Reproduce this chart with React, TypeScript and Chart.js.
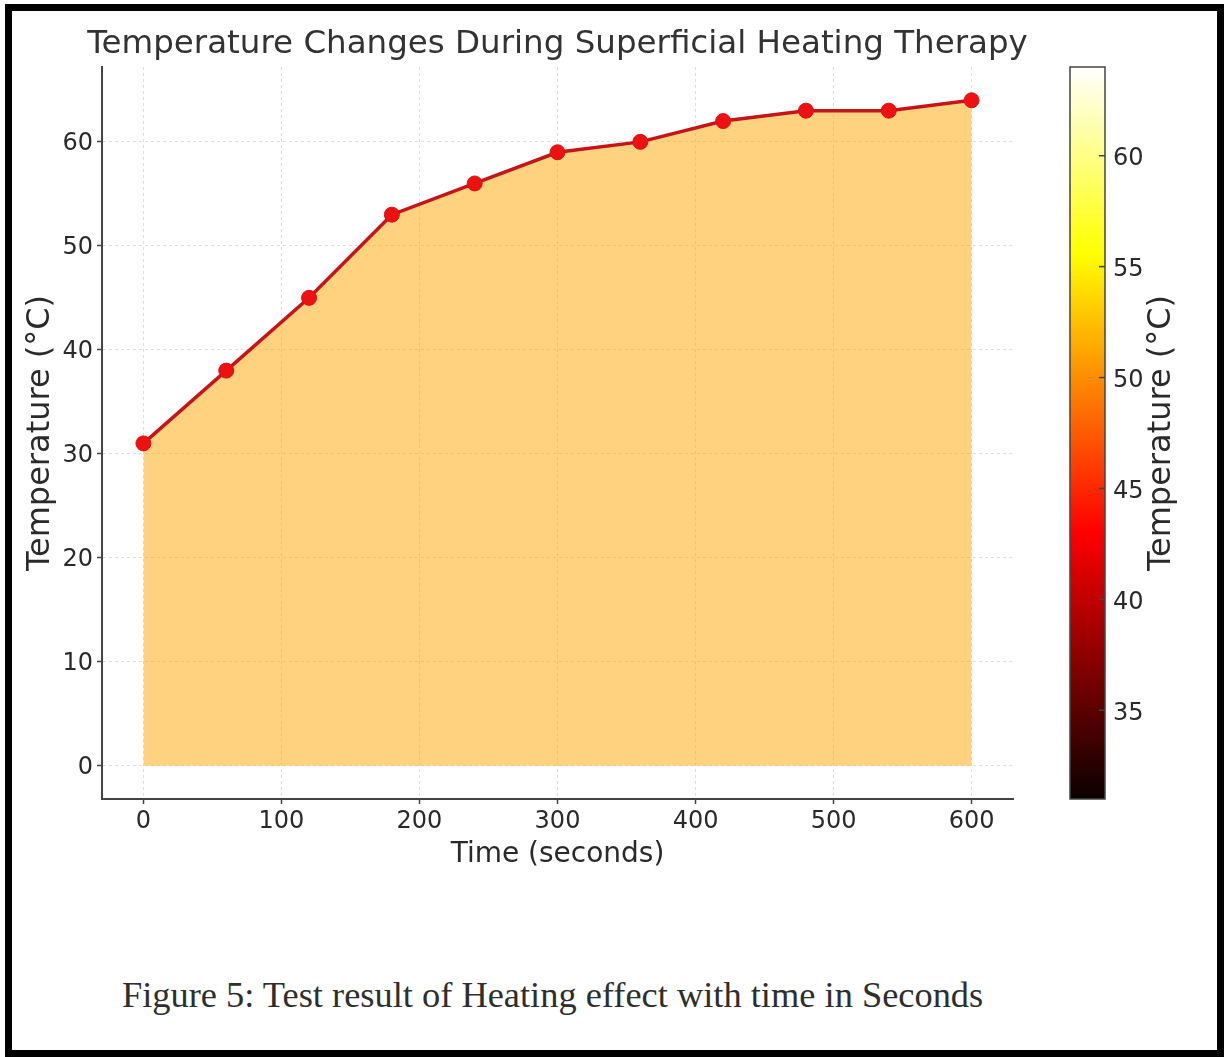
import React, { useEffect, useRef } from "react";
import { Chart, registerables } from "chart.js";

Chart.register(...registerables);

const chartTitle = "Temperature Changes During Superficial Heating Therapy";
const xAxisLabel = "Time (seconds)";
const yAxisLabel = "Temperature (°C)";
const colorbarLabel = "Temperature (°C)";
const caption = "Figure 5: Test result of Heating effect with time in Seconds";

const timeSeconds = [0, 60, 120, 180, 240, 300, 360, 420, 480, 540, 600];
const temperatures = [31, 38, 45, 53, 56, 59, 60, 62, 63, 63, 64];
const xTicks = [0, 100, 200, 300, 400, 500, 600];
const yTicks = [0, 10, 20, 30, 40, 50, 60];
const colorbarTicks = [35, 40, 45, 50, 55, 60];

// matplotlib "hot" colormap stops
const hotStops: [number, string][] = [
  [0, "rgb(11,0,0)"],
  [0.365, "rgb(255,0,0)"],
  [0.746, "rgb(255,255,0)"],
  [1, "rgb(255,255,255)"],
];

const FONT = "'DejaVu Sans', 'Liberation Sans', sans-serif";
const TEXT = "#2a2a2a";

export default function App() {
  const mainRef = useRef<HTMLCanvasElement>(null);
  const cbRef = useRef<HTMLCanvasElement>(null);

  useEffect(() => {
    const xMin = Math.min(...timeSeconds);
    const xMax = Math.max(...timeSeconds);
    const xPad = (xMax - xMin) * 0.05;
    const yLo = Math.min(0, ...temperatures);
    const yHi = Math.max(...temperatures);
    const yPad = (yHi - yLo) * 0.05;

    const gridCommon = {
      color: "rgba(0,0,0,0.13)",
      lineWidth: 1,
      drawTicks: true,
      tickLength: 5,
      tickColor: "#444",
      tickWidth: 1.5,
      tickBorderDash: [],
    };

    const titlePlugin = {
      id: "centeredTitle",
      afterDraw(chart: any) {
        const { ctx, chartArea } = chart;
        ctx.save();
        ctx.fillStyle = "#333";
        ctx.font = `32.5px ${FONT}`;
        ctx.textAlign = "center";
        ctx.textBaseline = "middle";
        ctx.fillText(chartTitle, (chartArea.left + chartArea.right) / 2, 45);
        ctx.restore();
      },
    };

    const main = new Chart(mainRef.current!, {
      type: "line",
      data: {
        datasets: [
          {
            data: timeSeconds.map((t, i) => ({ x: t, y: temperatures[i] })),
            fill: "origin",
            backgroundColor: "rgba(255,165,0,0.5)",
            borderColor: "#c4161a",
            borderWidth: 3.5,
            pointRadius: 7.5,
            pointBackgroundColor: "#ee1111",
            pointBorderColor: "#d41414",
            pointBorderWidth: 1,
            tension: 0,
          },
        ],
      },
      options: {
        responsive: false,
        animation: false,
        layout: { padding: { left: 0, right: 27, top: 67, bottom: 0 } },
        plugins: {
          legend: { display: false },
          tooltip: { enabled: false },
          title: { display: false },
        },
        scales: {
          x: {
            type: "linear",
            min: xMin - xPad,
            max: xMax + xPad,
            afterBuildTicks: (axis: any) => {
              axis.ticks = xTicks.map((v) => ({ value: v }));
            },
            afterFit: (scale: any) => {
              scale.height = 101;
            },
            grid: gridCommon,
            border: { display: true, color: "#444", width: 2, dash: [3, 3] },
            ticks: {
              color: TEXT,
              font: { family: FONT, size: 24 },
              padding: 3,
              maxRotation: 0,
            },
            title: {
              display: true,
              text: xAxisLabel,
              color: TEXT,
              font: { family: FONT, size: 28, lineHeight: 1.2 },
              padding: { top: 0, bottom: 28 },
            },
          },
          y: {
            type: "linear",
            min: yLo - yPad,
            max: yHi + yPad,
            afterBuildTicks: (axis: any) => {
              axis.ticks = yTicks.map((v) => ({ value: v }));
            },
            afterFit: (scale: any) => {
              scale.width = 102;
            },
            grid: gridCommon,
            border: { display: true, color: "#444", width: 2, dash: [3, 3] },
            ticks: {
              color: TEXT,
              font: { family: FONT, size: 24 },
              padding: 4,
              labelOffset: 2,
            },
            title: {
              display: true,
              text: yAxisLabel,
              color: TEXT,
              font: { family: FONT, size: 32, lineHeight: 1.2 },
              padding: { top: 21, bottom: 0 },
            },
          },
        },
      },
      plugins: [titlePlugin],
    } as any);

    const colorbarPlugin = {
      id: "colorbarFill",
      beforeDraw(chart: any) {
        const { ctx, chartArea } = chart;
        const { left, right, top, bottom } = chartArea;
        const g = ctx.createLinearGradient(0, bottom, 0, top);
        hotStops.forEach(([p, c]) => g.addColorStop(p, c));
        ctx.save();
        ctx.fillStyle = g;
        ctx.fillRect(left, top, right - left, bottom - top);
        ctx.strokeStyle = "#444";
        ctx.lineWidth = 1.5;
        ctx.strokeRect(left, top, right - left, bottom - top);
        const ys = chart.scales.y;
        ctx.strokeStyle = "#444";
        ctx.lineWidth = 1.5;
        colorbarTicks.forEach((v) => {
          const y = ys.getPixelForValue(v);
          ctx.beginPath();
          ctx.moveTo(right - 6, y);
          ctx.lineTo(right, y);
          ctx.stroke();
        });
        ctx.translate(122, (top + bottom) / 2);
        ctx.rotate(-Math.PI / 2);
        ctx.fillStyle = TEXT;
        ctx.font = `32px ${FONT}`;
        ctx.textAlign = "center";
        ctx.textBaseline = "middle";
        ctx.fillText(colorbarLabel, 0, 0);
        ctx.restore();
      },
    };

    const cb = new Chart(cbRef.current!, {
      type: "bar",
      data: { labels: [""], datasets: [] },
      options: {
        responsive: false,
        animation: false,
        layout: { padding: { left: 30, right: 0, top: 67, bottom: 101 } },
        plugins: { legend: { display: false }, tooltip: { enabled: false } },
        scales: {
          x: { display: false },
          y: {
            type: "linear",
            position: "right",
            min: Math.min(...temperatures),
            max: Math.max(...temperatures),
            afterBuildTicks: (axis: any) => {
              axis.ticks = colorbarTicks.map((v) => ({ value: v }));
            },
            afterFit: (scale: any) => {
              scale.width = 105;
            },
            grid: { display: false, drawOnChartArea: false, drawTicks: false },
            border: { display: false },
            ticks: {
              color: TEXT,
              font: { family: FONT, size: 24 },
              padding: 8,
              labelOffset: 3,
            },
          },
        },
      },
      plugins: [colorbarPlugin],
    } as any);

    return () => {
      main.destroy();
      cb.destroy();
    };
  }, []);

  return (
    <div
      style={{
        position: "absolute",
        left: 0,
        top: 0,
        width: 1224,
        height: 1057,
        background: "#fff",
        overflow: "hidden",
      }}
    >
      <canvas
        ref={mainRef}
        width={1040}
        height={900}
        style={{ position: "absolute", left: 0, top: 0, width: 1040, height: 900 }}
      />
      <canvas
        ref={cbRef}
        width={170}
        height={900}
        style={{ position: "absolute", left: 1040, top: 0, width: 170, height: 900 }}
      />
      <div
        style={{
          position: "absolute",
          left: 122,
          top: 975,
          fontFamily: "'Liberation Serif', 'Times New Roman', serif",
          fontSize: 36.4,
          lineHeight: "40px",
          color: "#2e2e2e",
          whiteSpace: "nowrap",
        }}
      >
        {caption}
      </div>
      <div
        style={{
          position: "absolute",
          left: 5,
          top: 4,
          width: 1219,
          height: 1053,
          border: "7px solid #000",
          boxSizing: "border-box",
          pointerEvents: "none",
        }}
      />
    </div>
  );
}
